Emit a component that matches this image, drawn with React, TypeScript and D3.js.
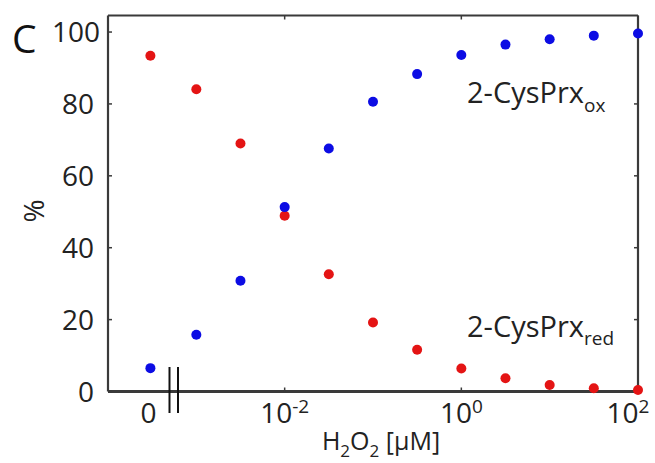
import React from "react";
import * as d3 from "d3";

// H2O2 concentrations in µM (0 is drawn left of the axis break)
const concentrations = [0, 0.001, 0.00316, 0.01, 0.0316, 0.1, 0.316, 1, 3.16, 10, 31.6, 100];
const oxidized = [6.5, 15.8, 30.8, 51.3, 67.6, 80.6, 88.3, 93.6, 96.5, 98.0, 99.0, 99.6];
const reduced = [93.4, 84.1, 69.0, 48.9, 32.6, 19.2, 11.6, 6.4, 3.7, 1.8, 0.9, 0.4];
const yTicks = [0, 20, 40, 60, 80, 100];
const xTickExponents = [-2, 0, 2];

const W = 655;
const H = 463;
const left = 108;
const right = 638;
const top = 15.5;
const bottom = 391.5;
const zeroPlotConc = Math.pow(10, -3.52);
const FONT = "'Open Sans', 'DejaVu Sans', sans-serif";
const RED = "#e41414";
const BLUE = "#0c0ce4";
const AXIS = "#3a3a3a";

export default function App() {
  const x = d3.scaleLog().domain([1e-4, 1e2]).range([left, right]);
  const y = d3.scaleLinear().domain([0, 104.6]).range([bottom, top]);
  const px = (c: number) => x(c === 0 ? zeroPlotConc : c);

  return (
    <svg width={W} height={H} style={{ position: "absolute", left: 0, top: 0, background: "#fff" }}>
      {/* frame */}
      <line x1={left} x2={right} y1={top} y2={top} stroke={AXIS} strokeWidth={2} />
      <line x1={right} x2={right} y1={top} y2={bottom} stroke={AXIS} strokeWidth={2.2} />
      <line x1={left} x2={left} y1={top} y2={bottom} stroke={AXIS} strokeWidth={2.2} />
      <line x1={left} x2={right} y1={bottom} y2={bottom} stroke={AXIS} strokeWidth={3} />

      {/* y ticks */}
      {yTicks.map((t) => (
        <g key={"y" + t}>
          <line x1={left} x2={left + 4} y1={y(t)} y2={y(t)} stroke={AXIS} strokeWidth={1.5} />
          <line x1={right - 4} x2={right} y1={y(t)} y2={y(t)} stroke={AXIS} strokeWidth={1.5} />
          <text x={t === 100 ? 100 : 94} y={y(t) + 10} textAnchor="end" fontFamily={FONT} fontSize={28} fill="#222">
            {t}
          </text>
        </g>
      ))}

      {/* x ticks */}
      {xTickExponents.map((e) => {
        const xv = x(Math.pow(10, e));
        return (
          <g key={"x" + e}>
            <line x1={xv} x2={xv} y1={bottom} y2={bottom - 4} stroke={AXIS} strokeWidth={1.5} />
            <line x1={xv} x2={xv} y1={top} y2={top + 4} stroke={AXIS} strokeWidth={1.5} />
            <text x={e === 2 ? xv - 10 : xv} y={423} textAnchor="middle" fontFamily={FONT} fontSize={28} fill="#222">
              10
              <tspan dy={-10} fontSize={19}>{e}</tspan>
            </text>
          </g>
        );
      })}
      <text x={px(0) - 2} y={423} textAnchor="middle" fontFamily={FONT} fontSize={28} fill="#222">0</text>

      {/* axis break */}
      <line x1={169.5} x2={169.5} y1={367} y2={413} stroke="#111" strokeWidth={2} />
      <line x1={178} x2={178} y1={367} y2={413} stroke="#111" strokeWidth={2} />

      {/* points */}
      {concentrations.map((c, i) => (
        <circle key={"r" + i} cx={px(c)} cy={y(reduced[i])} r={5} fill={RED} />
      ))}
      {concentrations.map((c, i) => (
        <circle key={"b" + i} cx={px(c)} cy={y(oxidized[i])} r={5} fill={BLUE} />
      ))}

      {/* series labels */}
      <text x={467} y={103} fontFamily={FONT} fontSize={29} fill="#222">
        2-CysPrx<tspan dy={9} fontSize={19}>ox</tspan>
      </text>
      <text x={467} y={337} fontFamily={FONT} fontSize={29} fill="#222">
        2-CysPrx<tspan dy={8} fontSize={19}>red</tspan>
      </text>

      {/* axis titles */}
      <text x={381} y={450} textAnchor="middle" fontFamily={FONT} fontSize={25} fill="#222">
        H<tspan dy={7} fontSize={17}>2</tspan>
        <tspan dy={-7}>O</tspan>
        <tspan dy={7} fontSize={17}>2</tspan>
        <tspan dy={-7}> [µM]</tspan>
      </text>
      <text transform="translate(44,211) rotate(-90)" textAnchor="middle" fontFamily={FONT} fontSize={28} fill="#222">
        %
      </text>

      {/* panel letter */}
      <text x={12} y={53} fontFamily={FONT} fontSize={39} fill="#111">C</text>
    </svg>
  );
}
